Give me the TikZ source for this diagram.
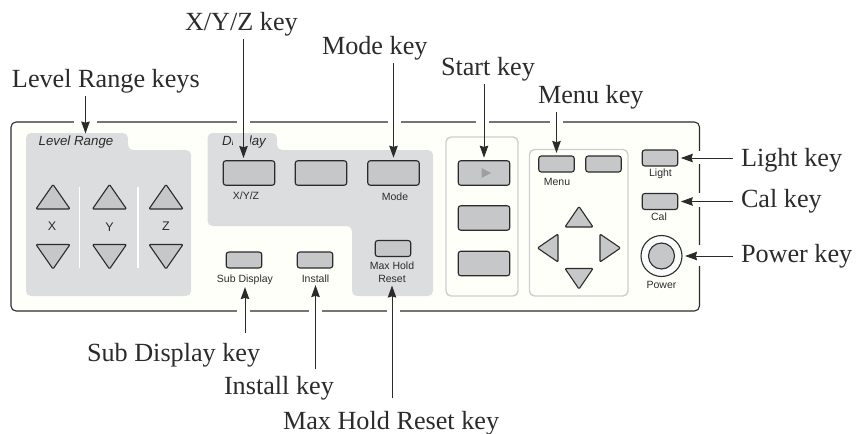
\documentclass[tikz,border=0pt]{standalone}
\usepackage{fontspec}
\setmainfont{Liberation Serif}
\setsansfont{Liberation Sans}
\usetikzlibrary{arrows.meta}

\definecolor{panelgray}{HTML}{DCDDDF}
\definecolor{keygray}{HTML}{C6C7C9}
\definecolor{boxgray}{HTML}{CDCECF}
\definecolor{inkgray}{HTML}{2B2B2B}

\begin{document}
\begin{tikzpicture}[
      x=1pt, y=-1pt,
      keyarrow/.style={-{Stealth[length=12pt,width=8.5pt,inset=1.2pt]}, line width=1pt, draw=inkgray, shorten >=2.5pt},
      callout/.style={font=\fontsize{26.2}{28}\selectfont, text=inkgray, inner sep=0pt, outer sep=3.4pt, anchor=base west, xshift=-3.4pt},
      keylabel/.style={font=\sffamily\fontsize{10.5}{13}\selectfont, text=inkgray, inner sep=0pt, align=center},
      axislabel/.style={font=\sffamily\fontsize{12.5}{14}\selectfont, text=inkgray, inner sep=0pt},
      tablabel/.style={font=\sffamily\itshape\fontsize{13.3}{15}\selectfont, text=inkgray, inner sep=0pt},
      bigkey/.style={draw=inkgray, fill=keygray, line width=1.1pt, rounded corners=2.5pt, minimum width=51.5pt, minimum height=24.5pt, inner sep=0pt},
      smallkey/.style={draw=inkgray, fill=keygray, line width=1.1pt, rounded corners=2.5pt, minimum width=35.5pt, minimum height=16pt, inner sep=0pt},
      arrowkey/.style={draw=inkgray, fill=keygray, line width=1.1pt, line join=round, rounded corners=1pt},
      groupbox/.style={draw=boxgray, line width=1.4pt, rounded corners=5pt}
    ]
      \useasboundingbox (0,0) rectangle (860,434);

      \draw[draw=inkgray, line width=1.1pt, rounded corners=5pt, fill=white!98!yellow] (11,122) rectangle (699.5,311);
      \foreach \xa/\xb in {74/97, 237/250, 388/401, 476/489, 550/563}
        \draw[white, line width=3pt] (\xa,122) -- (\xb,122);
      \foreach \xa/\xb in {237/250, 309/322, 387/400}
        \draw[white, line width=3pt] (\xa,311) -- (\xb,311);
      \foreach \ya/\yb in {151/164, 193/207, 245/266}
        \draw[white, line width=3pt] (699.5,\ya) -- (699.5,\yb);

      \fill[panelgray, rounded corners=5pt] (26,296) -- (26,133) -- (128,133) -- (128,150) -- (191,150) -- (191,296) -- cycle;
      \fill[panelgray, rounded corners=5pt] (207.5,226) -- (207.5,133) -- (277,133) -- (277,150) -- (433,150) -- (433,296) -- (352,296) -- (352,226) -- cycle;
      \draw[white, line width=1.3pt] (79.5,187) -- (79.5,268);
      \draw[white, line width=1.3pt] (138,187) -- (138,268);
      \draw[groupbox] (446,137) rectangle (518,296);
      \draw[groupbox] (529.5,149.5) rectangle (628,296);

      \node[tablabel] (tabRange) at (76,142.5) {Level Range};
      \node[tablabel] (tabDisplay) at (244,142.5) {Display};
      \fill[panelgray] (233,135) rectangle (250,150);

      \foreach \xc in {53,109.5,166} {
        \draw[arrowkey] (\xc-17,209) -- (\xc,184.5) -- (\xc+17,209) -- cycle;
        \draw[arrowkey] (\xc-17,244.5) -- (\xc,269) -- (\xc+17,244.5) -- cycle;
      }
      \node[axislabel] (lblX) at (52,226) {X};
      \node[axislabel] (lblY) at (109.5,227) {Y};
      \node[axislabel] (lblZ) at (166,226) {Z};

      \node[bigkey] (keyXYZ) at (249,173) {};
      \node[bigkey] (keyMid) at (321,173) {};
      \node[bigkey] (keyMode) at (393.5,173) {};
      \node[keylabel] (lblXYZ) at (246,195.5) {X/Y/Z};
      \node[keylabel] (lblMode) at (395,196.5) {Mode};
      \node[smallkey] (keySub) at (244,260) {};
      \node[smallkey] (keyInstall) at (315,260) {};
      \node[smallkey] (keyMaxHold) at (393,248.5) {};
      \node[keylabel] (lblSub) at (245,279.5) {Sub Display};
      \node[keylabel] (lblInstall) at (315.5,278.5) {Install};
      \node[keylabel] (lblMaxHold) at (392,272.5) {Max Hold\\Reset};

      \node[bigkey] (keyStart) at (484,173) {};
      \node[bigkey] (keySecond) at (484,218) {};
      \node[bigkey] (keyThird) at (484,263.5) {};
      \fill[gray!75] (481.5,168) -- (491,173) -- (481.5,178) -- cycle;

      \node[smallkey] (keyMenu) at (556.5,164) {};
      \node[smallkey] (keyNext) at (603.5,164) {};
      \node[keylabel] (lblMenu) at (557,181.5) {Menu};
      \draw[arrowkey] (565,227) -- (579,206.5) -- (593,227) -- cycle;
      \draw[arrowkey] (565,268.5) -- (579,289) -- (593,268.5) -- cycle;
      \draw[arrowkey] (558,234) -- (537.5,248) -- (558,262) -- cycle;
      \draw[arrowkey] (600,234) -- (620.5,248) -- (600,262) -- cycle;

      \node[smallkey] (keyLight) at (660,158) {};
      \node[smallkey] (keyCal) at (660,201.5) {};
      \node[keylabel] (lblLight) at (660.5,173.5) {Light};
      \node[keylabel] (lblCal) at (659,217) {Cal};
      \node[circle, draw=inkgray, fill=white!90!panelgray, line width=1.1pt, minimum size=41pt, inner sep=0pt] (keyPower) at (661.5,256) {};
      \node[circle, draw=inkgray, fill=keygray, line width=1.1pt, minimum size=26pt, inner sep=0pt] (keyPowerCap) at (661.5,256) {};
      \node[keylabel] (lblPower) at (661.5,284.5) {Power};

      \node[callout] (nameRange) at (12,87) {Level Range keys};
      \node[callout] (nameXYZ) at (185,30) {X/Y/Z key};
      \node[callout] (nameMode) at (322,54) {Mode key};
      \node[callout] (nameStart) at (441,75) {Start key};
      \node[callout] (nameMenu) at (538,103) {Menu key};
      \node[callout] (nameLight) at (741,166) {Light key};
      \node[callout] (nameCal) at (741,207) {Cal key};
      \node[callout] (namePower) at (741,262) {Power key};
      \node[callout] (nameSub) at (87,361) {Sub Display key};
      \node[callout] (nameInstall) at (224,394) {Install key};
      \node[callout] (nameMaxHold) at (283,429) {Max Hold Reset key};

      \coordinate (tipRange) at (85.5,136);
      \coordinate (tipXYZ) at (243.5,160.5);
      \draw[keyarrow] (tipRange |- nameRange.south) -- (tipRange);
      \draw[keyarrow] (tipXYZ |- nameXYZ.south) -- (tipXYZ);
      \draw[keyarrow] (keyMode |- nameMode.south) -- (keyMode.north);
      \draw[keyarrow] (keyStart |- nameStart.south) -- (keyStart.north);
      \draw[keyarrow] (keyMenu |- nameMenu.south) -- (keyMenu.north);
      \draw[keyarrow, shorten <=6pt] (lblSub |- nameSub.north) -- (lblSub.south);
      \draw[keyarrow, shorten <=3pt] (lblInstall |- nameInstall.north) -- (lblInstall.south);
      \draw[keyarrow, shorten <=9pt] (lblMaxHold |- nameMaxHold.north) -- (lblMaxHold.south);
      \draw[keyarrow, shorten <=5pt] (nameLight.west |- keyLight) -- (keyLight.east);
      \draw[keyarrow, shorten <=5pt] (nameCal.west |- keyCal) -- (keyCal.east);
      \draw[keyarrow, shorten <=5pt] (namePower.west |- keyPower) -- (keyPower.east);
    \end{tikzpicture}
\end{document}
